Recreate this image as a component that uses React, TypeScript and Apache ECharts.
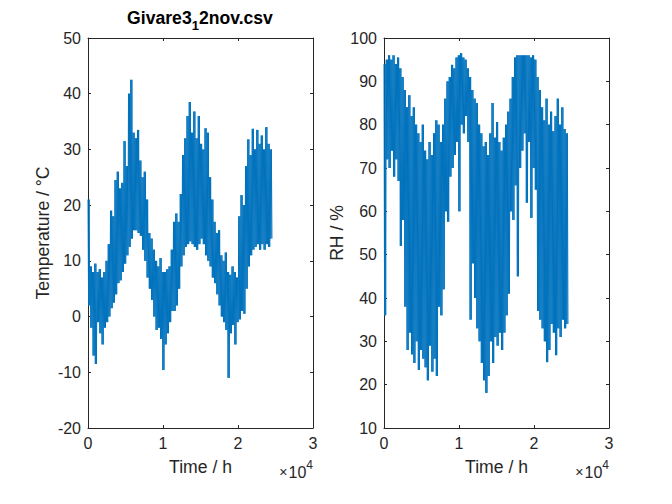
import React, { useEffect, useRef } from "react";
import * as echarts from "echarts";

// Sampling grid of the envelope (hours between samples)
const TIME_STEP_H = 300;

// Temperature envelope (°C): upper and lower extremes per sample
const TEMP_HI = [21, 9, 8, 9.5, 8, 8.5, 7, 8, 10, 13, 19, 18, 24.5, 26, 23, 24, 31.5, 27, 40, 42.5,
  33, 32, 33.5, 28, 25, 26, 21, 15, 14, 12, 10, 9, 10.5, 8, 8, 8.5, 9, 12, 17, 18.5,
  17, 22, 29, 32, 36, 38.5, 33, 36.8, 32, 36, 31, 30, 33.8, 33, 25, 21, 17, 15, 15.5, 11,
  10, 11.5, 8, 7.5, 9, 8, 7, 18, 21.8, 20, 27, 31.8, 29, 33.7, 30, 33.5, 31, 32.5, 30, 34,
  31, 30];
const TEMP_LO = [2, -2, -7, -8.5, -1, -3, -5, -2, -1, 0, 1.5, 2.5, 4, 6, 6.5, 8, 9.5, 11, 12.5, 14,
  15.5, 15.5, 15, 14.5, 12, 10, 7, 5, 3, 0, -2.4, -2, -4, -9.6, -5, -3, -1, 1, 1, 2,
  5, 9, 11, 12.5, 13, 13.5, 13, 12.5, 12, 13, 14, 13, 11, 10, 9, 7, 6, 4, 2, 0,
  -1, -2.4, -11, -3, -1.5, -5, -1, -0.5, 1, 0.5, 5, 9, 11, 12, 12.5, 13, 12, 13, 12, 13,
  12.5, 14];

// Relative humidity envelope (%)
const RH_HI = [94, 95, 96, 95, 96, 94, 95.5, 93, 91, 88, 84, 86.8, 82, 84, 80, 78, 76, 80, 74, 72,
  76, 73, 78, 81, 80, 76, 80, 86, 90, 91, 93.8, 93, 95.5, 96, 96.5, 95.5, 95, 93, 91, 88,
  86, 85, 80, 78, 75, 76, 73, 78, 85, 77, 80.6, 76, 74, 77, 80, 83, 86, 91, 95.5, 96,
  96, 96, 96, 96, 96, 95.5, 96, 95, 91, 88, 84, 81, 86, 80, 83, 78.5, 82, 86, 80, 84,
  79, 78];
const RH_LO = [36, 72, 70, 74, 68, 72, 67, 52, 58, 38, 28, 32, 27, 25, 30, 23.4, 28, 26, 24, 21,
  29, 23, 26, 22, 38, 36, 42, 60, 57.6, 68, 70, 73, 76, 60, 80, 78, 82, 76, 35, 48,
  40, 33, 30, 25, 21, 18.1, 22, 30, 25, 31, 29, 32, 28, 32, 36, 41, 60, 58, 66, 45,
  70, 74, 78, 62, 76, 58.5, 70, 65, 37, 35, 33, 30, 25.2, 28, 34, 32, 26.8, 33, 31, 35,
  33, 34];

const X_MAX_H = 30000;
const X_TICK_H = 10000;
const TEMP_RANGE = [-20, 50];
const RH_RANGE = [10, 100];

const AX = "#262626";
const LINE = "#0072BD";
const FONT = "Liberation Sans, Arial, Helvetica, sans-serif";

// The raw record swings between its extremes within every sample interval;
// trace each interval's (hi, lo) pair twice so the band reads as dense.
function envelopeTrace(hi: number[], lo: number[]): number[][] {
  const pts: number[][] = [];
  const q = TIME_STEP_H / 4;
  hi.forEach((h, i) => {
    const t = i * TIME_STEP_H;
    pts.push([t, h]);
    pts.push([t + q, lo[i]]);
    pts.push([t + 2 * q, h]);
    pts.push([t + 3 * q, lo[i]]);
  });
  return pts;
}

function xAxes(gridIndex: number) {
  const common = {
    gridIndex,
    type: "value" as const,
    min: 0,
    max: X_MAX_H,
    interval: X_TICK_H,
    splitLine: { show: false },
    axisLine: { show: true, onZero: false, lineStyle: { color: AX, width: 1 } },
    axisTick: { show: true, inside: true, length: 3, lineStyle: { color: AX } },
  };
  return [
    {
      ...common,
      position: "bottom",
      axisLabel: {
        color: AX,
        fontSize: 16,
        fontFamily: FONT,
        margin: 7,
        formatter: (v: number) => String(v / X_TICK_H),
      },
      name: "Time / h",
      nameLocation: "middle",
      nameGap: 30,
      nameTextStyle: { color: AX, fontSize: 17.6, fontFamily: FONT },
    },
    { ...common, position: "top", axisLabel: { show: false } },
  ];
}

function yAxes(gridIndex: number, range: number[], name: string) {
  const common = {
    gridIndex,
    type: "value" as const,
    min: range[0],
    max: range[1],
    interval: 10,
    splitLine: { show: false },
    axisLine: { show: true, onZero: false, lineStyle: { color: AX, width: 1 } },
    axisTick: { show: true, inside: true, length: 3, lineStyle: { color: AX } },
  };
  return [
    {
      ...common,
      position: "left",
      axisLabel: { color: AX, fontSize: 16, fontFamily: FONT, margin: 7 },
      name,
      nameLocation: "middle",
      nameGap: 36,
      nameTextStyle: { color: AX, fontSize: 17.6, fontFamily: FONT },
    },
    { ...common, position: "right", axisLabel: { show: false } },
  ];
}

export default function App() {
  const ref = useRef<HTMLDivElement>(null);
  useEffect(() => {
    if (!ref.current) return;
    const chart = echarts.init(ref.current, undefined, { renderer: "svg" });
    const expText = (x: number) => ({
      type: "text",
      x,
      y: 470,
      style: {
        text: "{m|×}{n|10}{s|4}",
        textAlign: "right",
        textVerticalAlign: "middle",
        rich: {
          m: { fontSize: 14, fontFamily: FONT, fill: AX, padding: [4, 1, 0, 0] },
          n: { fontSize: 16, fontFamily: FONT, fill: AX, padding: [4, 0, 0, 0] },
          s: { fontSize: 12, fontFamily: FONT, fill: AX, padding: [0, 0, 10, 0] },
        },
      },
    });
    chart.setOption({
      animation: false,
      backgroundColor: "#ffffff",
      grid: [
        { left: 88, top: 38, width: 225, height: 390 },
        { left: 384, top: 38, width: 225, height: 390 },
      ],
      xAxis: [...xAxes(0), ...xAxes(1)],
      yAxis: [
        ...yAxes(0, TEMP_RANGE, "Temperature / °C"),
        ...yAxes(1, RH_RANGE, "RH / %"),
      ],
      series: [
        {
          type: "line",
          xAxisIndex: 0,
          yAxisIndex: 0,
          data: envelopeTrace(TEMP_HI, TEMP_LO),
          showSymbol: false,
          symbol: "none",
          sampling: undefined,
          lineStyle: { color: LINE, width: 1 },
          itemStyle: { color: LINE },
        },
        {
          type: "line",
          xAxisIndex: 2,
          yAxisIndex: 2,
          data: envelopeTrace(RH_HI, RH_LO),
          showSymbol: false,
          symbol: "none",
          lineStyle: { color: LINE, width: 1 },
          itemStyle: { color: LINE },
        },
      ],
      graphic: [
        {
          type: "text",
          x: 200,
          y: 18,
          style: {
            text: "{b|Givare3}{s|1}{b|2nov.csv}",
            textAlign: "center",
            textVerticalAlign: "middle",
            rich: {
              b: { fontSize: 17.6, fontWeight: "bold", fontFamily: FONT, fill: "#000" },
              s: { fontSize: 13, fontWeight: "bold", fontFamily: FONT, fill: "#000", padding: [14, 0, 0, 0] },
            },
          },
        },
        expText(313),
        expText(609),
      ],
    });
    return () => chart.dispose();
  }, []);
  return <div ref={ref} style={{ width: 672, height: 504, position: "absolute", left: 0, top: 0 }} />;
}
